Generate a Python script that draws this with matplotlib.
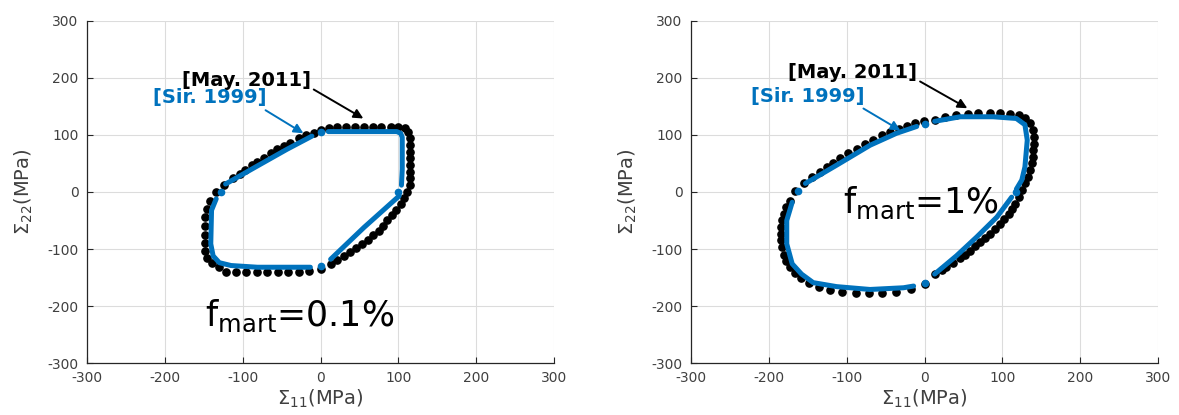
import numpy as np
import matplotlib
matplotlib.use('Agg')
import matplotlib.pyplot as plt

# --- data: black dots [May. 2011], blue curves [Sir. 1999] (MPa) ---
may_low = [(-9, 104), (0, 108), (11, 113), (21, 114), (33, 114), (44, 114), (56, 114),
           (67, 114), (78, 114), (90, 114), (100, 114), (109, 113), (113, 106), (115, 94),
           (115, 82), (115, 71), (115, 59), (115, 47), (115, 35), (115, 24), (115, 12),
           (111, 0), (107, -10), (103, -21), (97, -31), (92, -41), (86, -50), (80, -59),
           (75, -68), (68, -76), (61, -85), (53, -91), (45, -98), (38, -105), (30, -112),
           (21, -119), (13, -126), (1, -135), (-15, -138), (-28, -140), (-42, -140),
           (-55, -140), (-69, -140), (-82, -140), (-96, -140), (-109, -140), (-122, -140),
           (-131, -132), (-139, -125), (-146, -115), (-149, -103), (-149, -90), (-149, -76),
           (-149, -60), (-148, -44), (-146, -29), (-142, -15), (-134, 0), (-124, 12),
           (-113, 24), (-104, 32), (-97, 39), (-88, 47), (-82, 53), (-73, 60), (-64, 68),
           (-56, 75), (-47, 81), (-39, 86), (-28, 94), (-19, 100)]

sir_low_segs = [
    [(10, 106), (60, 106), (98, 106), (103, 103), (105, 96), (105, 40), (104, 12)],
    [(101, -7), (56, -62), (13, -118)],
    [(-13, -132), (-81, -132), (-115, -129), (-130, -124), (-138, -112), (-141, -91),
     (-140, -32), (-134, -12)],
    [(-122, 14), (-82, 45), (-43, 75), (-11, 98)],
]
sir_low_start = [(0, 106), (100, 0), (0, -129), (-128, 0)]

may_high = [(-1, 124), (13, 126), (26, 132), (41, 135), (56, 137), (69, 138), (84, 138),
            (97, 138), (110, 137), (121, 135), (129, 129), (136, 121), (139, 109),
            (141, 97), (141, 85), (140, 74), (139, 62), (138, 50), (136, 38), (133, 26),
            (129, 15), (125, 3), (121, -9), (116, -21), (112, -29), (108, -38), (102, -47),
            (97, -56), (90, -65), (84, -74), (78, -81), (71, -88), (65, -95), (58, -103),
            (52, -110), (46, -116), (37, -124), (28, -131), (22, -137), (13, -144),
            (0, -162), (-17, -170), (-36, -175), (-54, -177), (-71, -178), (-88, -177),
            (-106, -176), (-121, -172), (-136, -166), (-149, -159), (-159, -151),
            (-167, -142), (-173, -132), (-178, -121), (-181, -110), (-183, -97),
            (-184, -85), (-184, -73), (-184, -62), (-183, -50), (-181, -38), (-178, -26),
            (-173, -15), (-166, 2), (-155, 16), (-145, 26), (-134, 35), (-125, 44),
            (-117, 51), (-108, 59), (-98, 68), (-87, 76), (-76, 84), (-66, 92), (-55, 100),
            (-44, 106), (-33, 110), (-23, 116), (-12, 121)]

sir_high_segs = [
    [(13, 124), (46, 132), (88, 132), (118, 129), (129, 118), (132, 91), (129, 44),
     (125, 21), (118, 5)],
    [(112, -9), (93, -44), (67, -79), (41, -112), (13, -144)],
    [(-14, -165), (-27, -168), (-70, -171), (-113, -166), (-143, -159), (-158, -144),
     (-170, -126), (-177, -91), (-177, -50), (-170, -18)],
    [(-153, 15), (-113, 47), (-70, 82), (-36, 103), (-10, 115)],
]
sir_high_start = [(0, 120), (118, 0), (0, -159), (-162, 2)]

ticks = [-300, -200, -100, 0, 100, 200, 300]
fmart_labels = ['f$_\\mathregular{mart}$=0.1%', 'f$_\\mathregular{mart}$=1%']

BLUE = '#0072BD'
GREY = '#262626'

plt.rcParams['font.family'] = 'DejaVu Sans'
plt.rcParams['mathtext.default'] = 'regular'
plt.rcParams['axes.unicode_minus'] = False

fig = plt.figure(figsize=(11.79, 4.15), dpi=100)
ax1 = fig.add_axes([0.0738, 0.1253, 0.3961, 0.8241])
ax2 = fig.add_axes([0.5861, 0.1253, 0.3961, 0.8241])


def draw_panel(ax, may, segs, starts, label, label_xy, may_txt, may_tip, sir_txt, sir_tip):
    may = np.array(may).T
    ax.plot(may[0], may[1], 'o', color='black', ms=5.2, mec='black', zorder=3)
    for seg in segs:
        s = np.array(seg).T
        ax.plot(s[0], s[1], '-', color=BLUE, lw=3.6, solid_capstyle='round', zorder=4)
    st = np.array(starts).T
    ax.plot(st[0], st[1], 'o', color=BLUE, ms=4.5, zorder=4)

    ax.annotate('[May. 2011]', xy=may_tip, xytext=may_txt, fontsize=14,
                fontweight='bold', color='black', va='center', ha='left',
                arrowprops=dict(arrowstyle='-|>', color='black', lw=1.4,
                                mutation_scale=14, shrinkA=0, shrinkB=0,
                                relpos=(1.0, 0.1)))
    ax.annotate('[Sir. 1999]', xy=sir_tip, xytext=sir_txt, fontsize=14,
                fontweight='bold', color=BLUE, va='center', ha='left',
                arrowprops=dict(arrowstyle='-|>', color=BLUE, lw=1.4,
                                mutation_scale=14, shrinkA=0, shrinkB=0,
                                relpos=(0.95, 0.0)))
    ax.text(label_xy[0], label_xy[1], label, fontsize=25, color='black',
            ha='left', va='baseline')

    ax.set_xlim(-300, 300)
    ax.set_ylim(-300, 300)
    ax.set_xticks(ticks)
    ax.set_yticks(ticks)
    ax.grid(True, color='#dcdcdc', lw=0.8)
    ax.set_axisbelow(True)
    for side in ['top', 'right']:
        ax.spines[side].set_visible(False)
    for side in ['left', 'bottom']:
        ax.spines[side].set_color(GREY)
        ax.spines[side].set_linewidth(0.9)
    ax.tick_params(direction='in', length=4, colors=GREY, labelsize=10,
                   labelcolor='#404040', pad=6)
    ax.set_xlabel('$\\Sigma_{11}$(MPa)', fontsize=14, color='#404040', labelpad=2)
    ax.set_ylabel('$\\Sigma_{22}$(MPa)', fontsize=14, color='#404040', labelpad=9)


draw_panel(ax1, may_low, sir_low_segs, sir_low_start, fmart_labels[0], (-148, -235),
           (-178, 196), (55, 129), (-215, 165), (-22, 103))
draw_panel(ax2, may_high, sir_high_segs, sir_high_start, fmart_labels[1], (-105, -36),
           (-175, 210), (55, 147), (-223, 168), (-31, 108))

fig.savefig('out.png', dpi=100)
